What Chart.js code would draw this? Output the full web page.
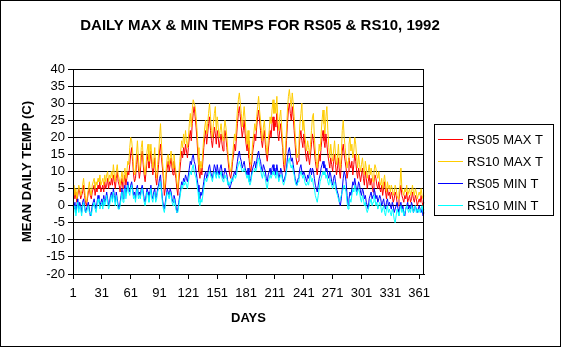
<!DOCTYPE html>
<html>
<head>
<meta charset="utf-8">
<script src="https://cdn.jsdelivr.net/npm/chart.js@4/dist/chart.umd.min.js"></script>
<style>
  html, body { margin: 0; padding: 0; background: #fff; }
  canvas { display: block; }
</style>
</head>
<body>
<canvas id="tempChart" width="561" height="347"></canvas>
<script>
// daily values, days 1..366 (1992 is a leap year)
const rs05Max = [
  3,5,2,4,1,3,5,4,2,3, 4,6,3,1,0,2,4,5,3,2, 4,5,6,3,5,4,6,5,7,4,
  5,6,4,7,5,6,8,5,7,6, 8,6,9,7,5,8,10,7,6,4, 6,8,5,7,9,6,8,10,9,12,
  15,17,13,9,7,8,12,15,11,8, 10,14,16,12,9,7,10,13,15,11, 13,16,12,9,11,14,8,6,9,12,
  16,18,14,11,8,3,5,9,11,13, 10,12,14,11,9,13,10,8,5,3, 7,10,13,16,14,17,15,18,16,14,
  17,20,22,19,24,27,29,26,23,19, 14,10,8,11,9,13,17,20,22,18, 21,24,26,22,19,17,20,23,21,18,
  22,20,17,19,21,18,16,19,22,20, 17,14,11,9,8,10,13,15,18,16, 20,24,27,29,26,23,20,22,25,21,
  18,16,19,14,11,10,13,16,18,21, 19,23,26,28,25,22,19,17,20,22, 18,15,13,16,19,22,20,24,26,22,
  25,23,27,21,19,22,24,20,17,12, 10,14,19,24,28,30,27,25,29,26, 22,18,14,12,13,16,20,22,19,17,
  21,18,15,13,16,14,12,15,18,21, 19,16,13,11,9,12,15,13,17,20, 22,19,17,21,18,15,13,11,14,12,
  10,13,15,12,9,11,14,10,8,12, 16,18,15,13,11,8,10,14,12,11, 13,9,12,15,13,10,8,11,9,7,
  9,11,8,6,10,8,5,7,9,6, 8,6,4,7,9,8,6,5,7,5, 4,6,3,5,7,4,2,5,3,4,
  2,4,3,1,2,4,3,1,0,2, 4,6,3,2,1,3,2,4,1,2, 3,1,2,4,2,1,3,2,0,1,
  2,1,3,1,0,1
];
const rs10Max = [
  5,6,3,5,2,4,6,5,3,4, 6,8,5,2,1,3,5,7,4,3, 6,7,8,5,7,6,8,7,9,6,
  7,8,6,9,7,9,10,7,9,8, 10,8,12,9,7,10,12,9,8,6, 8,10,7,9,11,8,10,13,12,17,
  20,19,16,11,9,10,15,19,14,10, 12,17,19,14,11,9,12,16,18,13, 15,18,14,11,13,17,10,8,12,15,
  20,24,18,13,10,5,7,11,14,15, 12,14,16,13,11,15,12,10,7,5, 9,13,16,19,17,21,18,22,19,17,
  20,24,27,23,28,31,30,29,26,22, 17,12,10,13,11,16,20,23,25,21, 24,27,30,26,22,20,24,27,29,22,
  26,23,20,22,24,21,19,22,25,23, 20,16,13,11,10,12,15,18,21,19, 24,28,31,33,30,27,23,26,29,25,
  21,18,22,17,13,12,15,19,21,24, 22,26,29,32,28,25,22,19,23,25, 21,17,15,19,22,26,24,28,31,27,
  30,27,32,25,22,26,28,23,19,14, 12,17,22,28,32,34,31,29,33,30, 26,21,17,14,15,19,24,27,30,22,
  25,21,18,16,19,17,15,18,22,26, 27,20,16,13,11,14,18,16,21,25, 28,24,21,26,29,22,17,14,18,15,
  13,16,19,15,12,14,18,13,11,15, 22,25,20,17,14,11,13,18,20,16, 18,14,16,20,18,14,11,15,12,10,
  12,14,11,9,13,11,8,10,12,9, 11,9,7,10,12,11,9,8,10,7, 6,8,5,7,9,6,4,7,5,6,
  4,6,5,3,4,6,5,3,2,4, 6,11,5,4,3,5,4,6,3,4, 5,3,4,6,4,3,5,4,2,3,
  4,3,5,3,2,3
];
const rs05Min = [
  0,-1,1,-2,0,2,-1,1,0,-2, 1,2,0,-2,-1,0,1,-1,-3,-2, 0,1,2,0,-1,1,3,2,0,1,
  2,0,3,1,2,4,2,0,1,3, 4,2,5,3,1,4,2,0,-1,1, 3,5,2,4,6,3,5,7,5,4,
  6,7,5,3,4,2,5,6,3,4, 3,5,6,4,2,1,3,5,4,2, 4,6,3,2,4,5,2,3,5,6,
  8,9,5,2,0,-1,1,3,5,4, 3,5,4,2,1,3,2,0,-2,-1, 1,3,5,7,6,8,7,9,8,7,
  9,11,13,12,14,15,13,12,10,8, 6,3,2,4,3,5,7,9,10,8, 9,11,12,10,9,8,10,12,11,9,
  12,10,9,11,12,10,8,9,11,10, 9,7,6,5,6,7,8,9,10,9, 11,13,15,16,14,13,11,12,13,11,
  10,9,11,8,7,8,10,11,12,13, 11,13,15,16,14,13,11,10,12,11, 10,8,7,9,10,11,9,11,12,10,
  11,9,12,10,8,9,11,10,8,7, 8,9,11,14,16,17,15,13,14,12, 10,8,7,6,8,9,11,12,10,9,
  10,9,8,7,9,8,10,11,9,11, 10,8,6,5,4,6,8,9,11,12, 13,11,12,10,11,9,8,10,9,7,
  6,8,9,7,5,4,3,1,0,2, 5,8,10,9,7,3,0,2,4,3, 5,7,6,8,6,4,5,7,6,4,
  3,5,4,2,3,1,0,-1,2,3, 4,2,3,5,4,2,3,1,2,3, 2,0,1,2,0,-1,1,2,0,1,
  0,-1,1,0,-2,-1,0,1,-1,-2, 0,1,-1,0,-2,-3,-1,0,1,-1, 0,-1,1,0,-2,-1,0,-1,-2,-1,
  0,-1,-2,-1,-3,-2
];
const rs10Min = [
  -2,-1,0,-3,-1,1,-2,0,-1,-3, 0,1,-1,-2,-2,-1,0,-2,-2,-3, -1,0,1,-1,-2,0,2,1,-1,0,
  1,-1,2,0,1,3,1,-1,0,2, 3,1,4,2,0,3,1,-1,-1,0, 2,4,1,3,5,2,4,6,4,3,
  5,6,4,2,3,1,4,5,2,3, 2,4,5,3,1,0,2,4,3,1, 3,5,2,1,3,4,1,2,4,5,
  6,7,4,1,-1,-2,0,2,4,3, 2,4,3,1,0,2,1,-1,-2,-2, 0,2,4,6,5,7,6,7,6,5,
  7,9,10,9,11,12,10,9,8,6, 4,1,0,2,1,3,5,7,8,7, 8,9,10,9,8,7,9,10,9,8,
  10,9,8,9,10,8,7,8,9,8, 8,6,7,6,7,8,7,8,9,8, 9,11,12,13,12,11,10,10,11,10,
  9,8,9,7,6,7,9,10,10,11, 10,11,13,14,12,11,9,8,10,9, 8,6,5,7,8,9,8,9,10,9,
  9,8,10,9,7,8,9,9,7,6, 7,8,10,12,13,14,12,11,12,10, 9,7,6,6,7,8,9,10,9,8,
  9,7,6,6,7,6,8,9,7,8, 6,5,3,2,1,3,5,7,8,9, 10,9,10,8,9,7,6,8,7,6,
  5,6,7,5,4,3,2,1,2,3, 4,5,6,5,4,1,-1,0,2,1, 3,5,4,6,5,3,4,5,4,2,
  1,3,2,0,1,-1,-2,-1,0,1, 2,0,1,3,2,0,1,-1,0,1, 0,-2,-1,0,-2,-3,-1,0,-2,-1,
  -2,-3,-1,-2,-4,-5,-3,-1,-2,-3, -1,0,-2,-1,-3,-2,-1,0,-1,-2, -1,-2,0,-1,-2,-1,0,-2,-1,-2,
  -1,-2,-1,0,-2,-1
];
const seriesNames = ["RS05 MAX T", "RS10 MAX T", "RS05 MIN T", "RS10 MIN T"];
const seriesColors = ["#ff0000", "#ffcc00", "#0000ff", "#00ffff"];
const yTicks = [-20, -15, -10, -5, 0, 5, 10, 15, 20, 25, 30, 35, 40];

const days = [];
for (let d = 1; d <= rs05Max.length; d++) days.push(String(d));

const font = "'Liberation Sans', Arial, sans-serif";

// title, plot frame and boxed legend like the old spreadsheet chart
const frame = {
    id: "frame",
    beforeDraw(chart) {
        const c = chart.ctx;
        c.save();
        c.fillStyle = "#fff";
        c.fillRect(0, 0, chart.width, chart.height);
        c.restore();
    },
    afterDraw(chart) {
        const c = chart.ctx;
        const a = chart.chartArea;
        c.save();
        c.strokeStyle = "#000";
        c.lineWidth = 1;
        c.strokeRect(0.5, 0.5, chart.width - 1, chart.height - 1);
        c.strokeRect(Math.round(a.left) + 0.5, Math.round(a.top) + 0.5,
            Math.round(a.right - a.left) - 1, Math.round(a.bottom - a.top));

        c.fillStyle = "#000";
        c.font = "bold 15px " + font;
        c.textAlign = "center";
        c.textBaseline = "middle";
        c.fillText("DAILY MAX & MIN TEMPS FOR RS05 & RS10, 1992", 260, 26);

        c.strokeRect(434.5, 124.5, 119, 91);
        c.font = "13px " + font;
        c.textAlign = "left";
        chart.data.datasets.forEach((ds, i) => {
            const y = 139 + i * 22;
            c.strokeStyle = ds.borderColor;
            c.beginPath();
            c.moveTo(438, y + 0.5);
            c.lineTo(463, y + 0.5);
            c.stroke();
            c.fillText(ds.label, 467, y + 1);
        });
        c.restore();
    }
};

const sets = [rs05Max, rs10Max, rs05Min, rs10Min];

new Chart(document.getElementById("tempChart"), {
    type: "line",
    data: {
        labels: days,
        datasets: sets.map((vals, i) => ({
            label: seriesNames[i],
            data: vals,
            borderColor: seriesColors[i],
            borderWidth: 1,
            pointRadius: 0,
            tension: 0,
            fill: false,
            order: 4 - i
        }))
    },
    options: {
        responsive: false,
        animation: false,
        devicePixelRatio: 1,
        layout: { padding: { left: 0, top: 69, right: 137, bottom: 0 } },
        plugins: {
            legend: { display: false },
            title: { display: false },
            tooltip: { enabled: false }
        },
        scales: {
            x: {
                type: "category",
                offset: false,
                afterBuildTicks(s) {
                    s.ticks = s.ticks.filter((t, i) => i % 30 === 0);
                },
                afterFit(s) { s.height = 73; },
                grid: { drawOnChartArea: false, color: "#000", tickLength: 5 },
                border: { color: "#000" },
                ticks: {
                    autoSkip: false,
                    maxRotation: 0,
                    padding: 7,
                    color: "#000",
                    font: { family: font, size: 13 }
                },
                title: {
                    display: true,
                    text: "DAYS",
                    color: "#000",
                    font: { family: font, size: 13, weight: "bold" },
                    padding: { top: 0, bottom: 21 }
                }
            },
            y: {
                min: -20,
                max: 40,
                afterBuildTicks(s) {
                    s.ticks = yTicks.map(v => ({ value: v }));
                },
                afterFit(s) { s.width = 73; },
                grid: { color: "#000", tickLength: 5 },
                border: { color: "#000" },
                ticks: {
                    autoSkip: false,
                    padding: 3,
                    color: "#000",
                    font: { family: font, size: 13 }
                },
                title: {
                    display: true,
                    text: "MEAN DAILY TEMP (C)",
                    color: "#000",
                    font: { family: font, size: 13, weight: "bold" },
                    padding: { top: 20, bottom: 0 }
                }
            }
        }
    },
    plugins: [frame]
});
</script>
</body>
</html>
